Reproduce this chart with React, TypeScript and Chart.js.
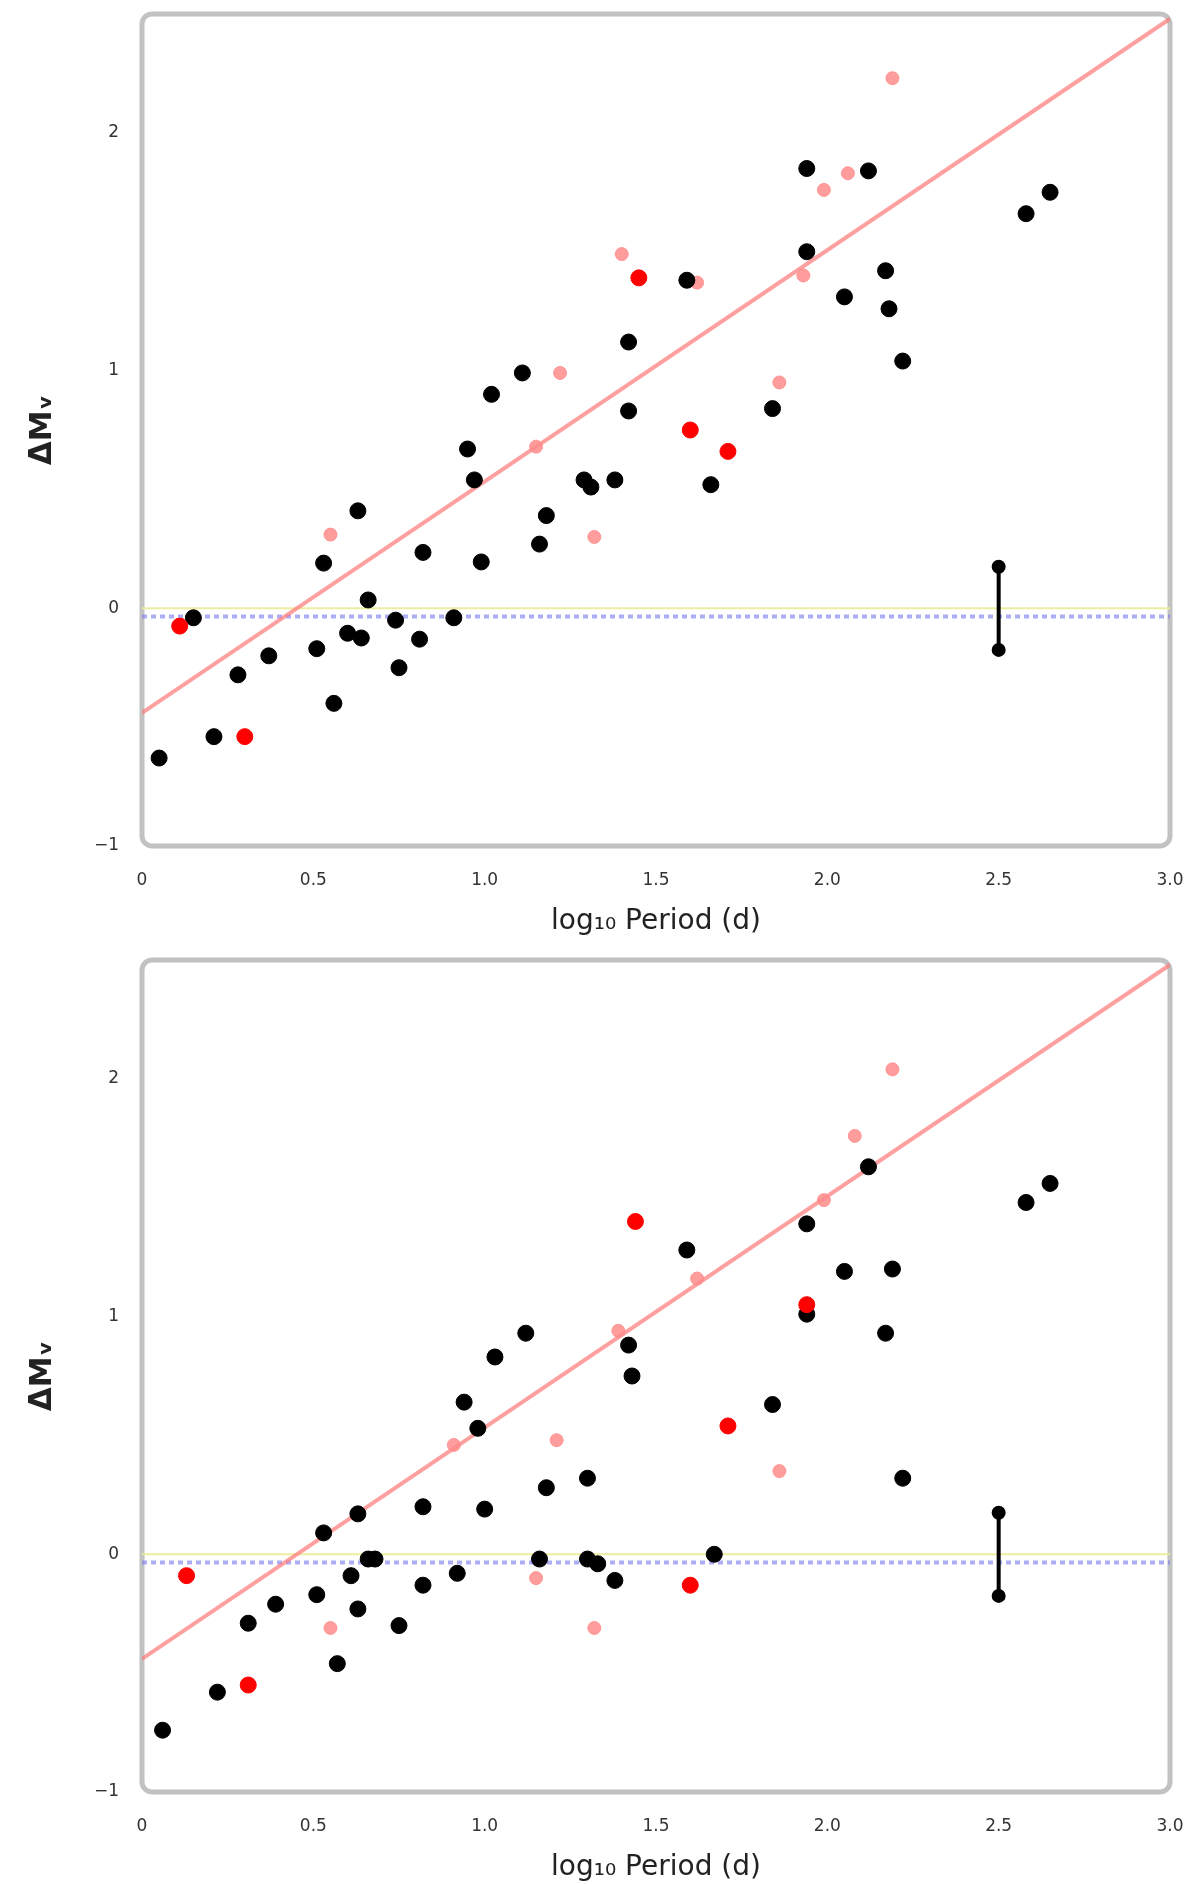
import React, { useEffect, useRef } from "react";
import { Chart, registerables } from "chart.js";

Chart.register(...registerables);

// ---------- data ----------
const xTicks = [0, 0.5, 1.0, 1.5, 2.0, 2.5, 3.0];
const yTicks = [-1, 0, 1, 2];

// top panel
const topBlackX = [0.05, 0.21, 0.15, 0.28, 0.37, 0.51, 0.56, 0.53, 0.63, 0.60, 0.64, 0.66, 0.74, 0.75, 0.81, 0.82, 0.91, 0.95, 0.97, 0.99, 1.02, 1.11, 1.16, 1.18, 1.29, 1.31, 1.38, 1.42, 1.42, 1.59, 1.66, 1.84, 1.94, 1.94, 2.05, 2.12, 2.17, 2.18, 2.22, 2.58, 2.65];
const topBlackY = [-0.63, -0.54, -0.04, -0.28, -0.20, -0.17, -0.40, 0.19, 0.41, -0.105, -0.125, 0.035, -0.05, -0.25, -0.13, 0.235, -0.04, 0.67, 0.54, 0.195, 0.90, 0.99, 0.27, 0.39, 0.54, 0.51, 0.54, 1.12, 0.83, 1.38, 0.52, 0.84, 1.50, 1.85, 1.31, 1.84, 1.42, 1.26, 1.04, 1.66, 1.75];
const topRedX = [0.30, 0.11, 1.45, 1.60, 1.71];
const topRedY = [-0.54, -0.075, 1.39, 0.75, 0.66];
const topPinkX = [0.55, 1.22, 1.15, 1.32, 1.40, 1.62, 1.86, 1.93, 1.99, 2.06, 2.19];
const topPinkY = [0.31, 0.99, 0.68, 0.30, 1.49, 1.37, 0.95, 1.40, 1.76, 1.83, 2.23];

// bottom panel
const botBlackX = [0.06, 0.22, 0.31, 0.39, 0.51, 0.57, 0.53, 0.63, 0.63, 0.61, 0.66, 0.68, 0.75, 0.82, 0.82, 0.92, 0.94, 0.98, 1.0, 1.03, 1.12, 1.18, 1.16, 1.30, 1.30, 1.33, 1.38, 1.42, 1.43, 1.59, 1.67, 1.84, 1.94, 1.94, 2.05, 2.12, 2.17, 2.19, 2.22, 2.58, 2.65];
const botBlackY = [-0.74, -0.58, -0.29, -0.21, -0.17, -0.46, 0.09, 0.17, -0.23, -0.09, -0.02, -0.02, -0.30, -0.13, 0.20, -0.08, 0.64, 0.53, 0.19, 0.83, 0.93, 0.28, -0.02, 0.32, -0.02, -0.04, -0.11, 0.88, 0.75, 1.28, 0.0, 0.63, 1.01, 1.39, 1.19, 1.63, 0.93, 1.20, 0.32, 1.48, 1.56];
const botRedX = [0.31, 0.13, 1.44, 1.60, 1.71, 1.94];
const botRedY = [-0.55, -0.09, 1.40, -0.13, 0.54, 1.05];
const botPinkX = [0.55, 0.91, 1.21, 1.15, 1.32, 1.39, 1.62, 1.86, 1.99, 2.08, 2.19];
const botPinkY = [-0.31, 0.46, 0.48, -0.10, -0.31, 0.94, 1.16, 0.35, 1.49, 1.76, 2.04];

// fit line, reference lines, error bar
const fitX = [0, 3];
const fitY = [-0.44, 2.48];
const zeroLineX = [0, 3];
const zeroLineY = [0, 0];
const meanLineX = [0, 3];
const meanLineY = [-0.035, -0.035];
const errX = [2.5, 2.5];
const errY = [-0.175, 0.175];

const xTitle = "log₁₀ Period (d)";
const yTitle = "ΔMᵥ";

const pts = (xs: number[], ys: number[]) => xs.map((x, i) => ({ x, y: ys[i] }));

const framePlugin = {
  id: "frame",
  beforeDatasetsDraw(chart: any) {
    const { ctx, chartArea: a } = chart;
    ctx.save();
    ctx.strokeStyle = "#c2c2c2";
    ctx.lineWidth = 5;
    ctx.beginPath();
    (ctx as any).roundRect(a.left, a.top, a.right - a.left, a.bottom - a.top, 10);
    ctx.stroke();
    ctx.restore();
  },
};

type PanelProps = {
  top: number;
  height: number;
  padTop: number;
  axisH: number;
  titlePad: number;
  black: { x: number; y: number }[];
  red: { x: number; y: number }[];
  pink: { x: number; y: number }[];
};

function Panel(p: PanelProps) {
  const ref = useRef<HTMLCanvasElement>(null);
  useEffect(() => {
    if (!ref.current) return;
    const font = "'DejaVu Sans', sans-serif";
    const chart = new Chart(ref.current, {
      type: "scatter",
      data: {
        datasets: [
          {
            type: "line",
            data: pts(zeroLineX, zeroLineY),
            borderColor: "rgba(235,235,150,0.9)",
            borderWidth: 2,
            pointRadius: 0,
            order: 12,
          } as any,
          {
            type: "line",
            data: pts(meanLineX, meanLineY),
            borderColor: "rgba(120,120,240,0.6)",
            borderWidth: 4,
            borderDash: [5, 4],
            pointRadius: 0,
            order: 11,
          } as any,
          {
            type: "line",
            data: pts(fitX, fitY),
            borderColor: "rgba(255,120,120,0.7)",
            borderWidth: 4,
            pointRadius: 0,
            order: 10,
          } as any,
          {
            data: p.pink,
            backgroundColor: "rgba(255,140,140,0.85)",
            borderColor: "rgba(255,140,140,0.85)",
            pointRadius: 6.5,
            order: 3,
          },
          {
            data: p.black,
            backgroundColor: "#000",
            borderColor: "#000",
            pointRadius: 8,
            order: 2,
          },
          {
            data: p.red,
            backgroundColor: "#ff0000",
            borderColor: "#ff0000",
            pointRadius: 8,
            order: 1,
          },
          {
            type: "line",
            data: pts(errX, errY),
            borderColor: "#000",
            borderWidth: 4,
            pointRadius: 5,
            pointBackgroundColor: "#000",
            order: 0,
          } as any,
        ],
      },
      options: {
        responsive: false,
        maintainAspectRatio: false,
        animation: false,
        layout: { autoPadding: false, padding: { left: 0, right: 30, top: p.padTop, bottom: 0 } },
        plugins: { legend: { display: false }, tooltip: { enabled: false } },
        scales: {
          x: {
            type: "linear",
            min: 0,
            max: 3,
            grid: { display: false },
            border: { display: false },
            afterBuildTicks: (s: any) => {
              s.ticks = xTicks.map((v) => ({ value: v }));
            },
            ticks: {
              padding: 16,
              color: "#333",
              font: { size: 17, family: font },
              callback: (v: any) => (Number(v) === 0 ? "0" : Number(v).toFixed(1)),
            },
            title: {
              display: true,
              text: xTitle,
              color: "#222",
              font: { size: 28, family: font },
              padding: p.titlePad,
            },
            afterFit: (s: any) => {
              s.height = p.axisH;
              s.paddingLeft = 0;
              s.paddingRight = 0;
            },
          },
          y: {
            type: "linear",
            min: -1,
            max: 2.5,
            grid: { display: false },
            border: { display: false },
            afterBuildTicks: (s: any) => {
              s.ticks = yTicks.map((v) => ({ value: v }));
            },
            ticks: {
              padding: 15,
              color: "#333",
              font: { size: 17, family: font },
              callback: (v: any) => String(v).replace("-", "−"),
            },
            title: {
              display: true,
              text: yTitle,
              color: "#222",
              font: { size: 31, family: font, weight: "bold" },
              padding: 24,
            },
            afterFit: (s: any) => {
              s.width = 142;
              s.paddingTop = 0;
              s.paddingBottom = 0;
            },
          },
        },
      },
      plugins: [framePlugin],
    });
    return () => chart.destroy();
  }, []);
  return (
    <canvas
      ref={ref}
      width={1200}
      height={p.height}
      style={{ position: "absolute", left: 0, top: p.top, width: 1200, height: p.height }}
    />
  );
}

export default function App() {
  return (
    <div style={{ position: "absolute", left: 0, top: 0, width: 1200, height: 1884, background: "#fff" }}>
      <Panel
        top={0}
        height={935}
        padTop={14}
        axisH={89}
        titlePad={-4}
        black={pts(topBlackX, topBlackY)}
        red={pts(topRedX, topRedY)}
        pink={pts(topPinkX, topPinkY)}
      />
      <Panel
        top={935}
        height={949}
        padTop={25}
        axisH={92}
        titlePad={-1}
        black={pts(botBlackX, botBlackY)}
        red={pts(botRedX, botRedY)}
        pink={pts(botPinkX, botPinkY)}
      />
    </div>
  );
}
